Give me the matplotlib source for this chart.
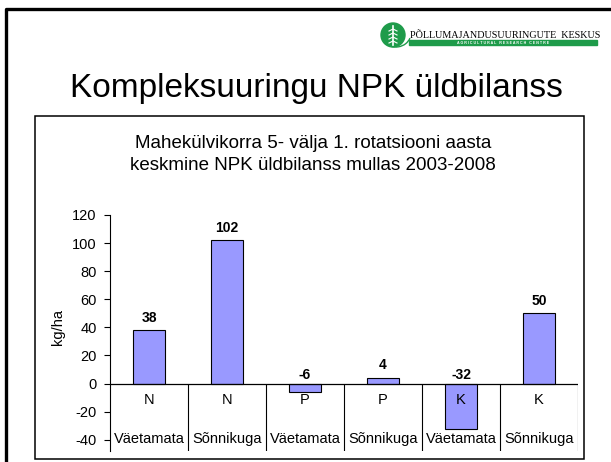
import matplotlib
matplotlib.use('Agg')
import matplotlib.pyplot as plt
from matplotlib.patches import Rectangle, Circle, Arc

plt.rcParams['font.family'] = ['Liberation Sans', 'DejaVu Sans']
plt.rcParams['axes.unicode_minus'] = False

# andmed
elements = ['N', 'N', 'P', 'P', 'K', 'K']
treatments = ['Väetamata', 'Sõnnikuga', 'Väetamata', 'Sõnnikuga', 'Väetamata', 'Sõnnikuga']
values = [38, 102, -6, 4, -32, 50]
y_ticks = [-40, -20, 0, 20, 40, 60, 80, 100, 120]

title = 'Kompleksuuringu NPK üldbilanss'
subtitle = 'Mahekülvikorra 5- välja 1. rotatsiooni aasta\nkeskmine NPK üldbilanss mullas 2003-2008'

W, H = 611, 462
fig = plt.figure(figsize=(W / 100, H / 100), dpi=100)

# taust: slaidi raam, logo, pealkirjad (pikslites)
bg = fig.add_axes([0, 0, 1, 1], zorder=0)
bg.set_xlim(0, W)
bg.set_ylim(H, 0)
bg.axis('off')

bg.plot([5.5, 5.5, W], [H, 8.5, 8.5], color='black', lw=2.4, solid_capstyle='butt')
bg.add_patch(Rectangle((35, 116), 549, 343, fill=False, edgecolor='black', lw=1.1))

# logo
green = '#1e9b4a'
bg.add_patch(Circle((393, 35), 12, color=green))
bg.add_patch(Arc((396, 33), 30, 28, theta1=20, theta2=140, color=green, lw=1))
bg.plot([393, 393], [26, 45], color='white', lw=1.2)
for dy in [29, 33, 37, 41]:
    bg.plot([389, 393, 397], [dy + 2, dy, dy + 2], color='white', lw=0.8)
bg.text(410, 37.5, 'PÕLLUMAJANDUSUURINGUTE  KESKUS', fontsize=7.3,
        family=['Liberation Serif'], ha='left', va='baseline')
bg.add_patch(Rectangle((409, 40), 188, 5, color=green))
bg.text(503, 42.6, 'A G R I C U L T U R A L   R E S E A R C H   C E N T R E',
        fontsize=2.6, color='white', ha='center', va='center', weight='bold')

bg.text(316, 97, title, fontsize=24, ha='center', va='baseline')
bg.text(313, 143, subtitle.split('\n')[0], fontsize=13.5, ha='center', va='center')
bg.text(313, 165, subtitle.split('\n')[1], fontsize=13.5, ha='center', va='center')
bg.text(58, 327, 'kg/ha', fontsize=10.5, rotation=90, ha='center', va='center')

# diagramm
left, right = 110 / W, 578 / W
ylo = -48
ax = fig.add_axes([left, 1 - 451 / H, right - left, (451 - 215) / H], zorder=1)
ax.patch.set_alpha(0)
x = [i + 0.5 for i in range(len(values))]
ax.bar(x, values, width=0.41, color='#9999FF', edgecolor='black', lw=0.8, zorder=2)
ax.axhline(0, color='black', lw=0.9, zorder=3)
ax.vlines(range(1, len(values) + 1), ylo, 0, color='black', lw=0.8, zorder=3)

for xi, v in zip(x, values):
    off = 4 if v > 0 else 1
    ax.annotate(str(v), (xi, max(v, 0)), xytext=(0, off), textcoords='offset points',
                ha='center', va='bottom', fontsize=10, weight='bold', zorder=4)
for xi, e, t in zip(x, elements, treatments):
    ax.text(xi, -12, e, ha='center', va='center', fontsize=10.5, zorder=4)
    ax.text(xi, -39.5, t, ha='center', va='center', fontsize=10.5, zorder=4)

ax.set_xlim(0, len(values))
ax.set_ylim(ylo, 120)
ax.set_yticks(y_ticks)
ax.set_xticks([])
for s in ['top', 'right', 'bottom']:
    ax.spines[s].set_visible(False)
ax.spines['left'].set_linewidth(0.8)
ax.tick_params(axis='y', direction='out', length=4.5, width=0.8, pad=5, labelsize=10.5)

fig.savefig('out.png', dpi=100)
